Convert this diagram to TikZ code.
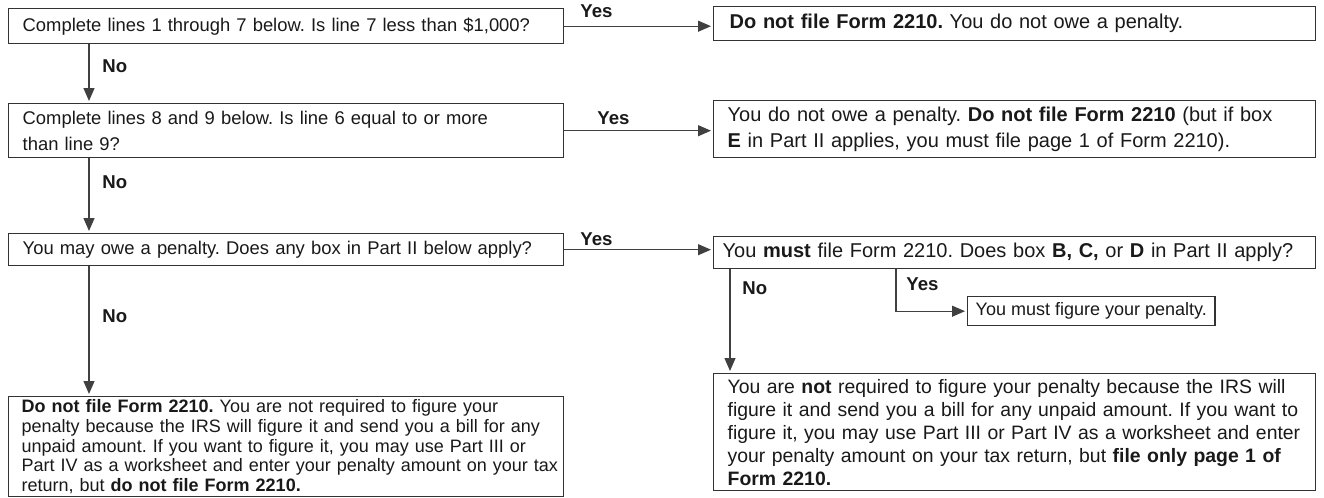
\documentclass[tikz,border=0pt]{standalone}
\usepackage{fontspec}
\setmainfont{Liberation Sans}
\usetikzlibrary{arrows.meta,calc}
\frenchspacing
\hyphenpenalty=10000
\begin{document}
\begin{tikzpicture}[x=0.5pt,y=-0.5pt,
  box/.style={draw=black!80, line width=0.7pt, anchor=north west, align=left,
    inner xsep=7pt, inner ysep=0pt, font=\fontsize{9.2}{13}\selectfont, text=black!90},
  rbox/.style={box, font=\fontsize{10}{13}\selectfont},
  lbl/.style={font=\fontsize{9.3}{11}\selectfont\bfseries, inner sep=0pt, text=black!90},
  arr/.style={draw=black!75, line width=0.6pt, -{Triangle[length=6.5pt,width=5.5pt]}, shorten >=1pt},
]
\useasboundingbox (0,0) rectangle (1324,498);
% boxes
\node[box, text width=263.5pt, minimum height=17.5pt] (A) at (8,8)
  {\mbox{Complete lines 1 through 7 below. Is line 7 less than \$1,000?}};
\node[rbox, inner xsep=8pt, text width=285pt, minimum height=17pt] (B) at (713,6)
  {\textbf{Do not file Form 2210.} You do not owe a penalty.};
\node[box, text width=263.5pt, minimum height=27pt] (C) at (8,103)
  {Complete lines 8 and 9 below. Is line 6 equal to or more\\than line 9?};
\node[rbox, text width=287pt, minimum height=28.5pt] (D) at (713,100)
  {\mbox{You do not owe a penalty. \textbf{Do not file Form 2210} (but if box}\\\mbox{\textbf{E} in Part II applies, you must file page 1 of Form 2210).}};
\node[box, text width=263.5pt, minimum height=16pt] (E) at (8,233)
  {\mbox{You may owe a penalty. Does any box in Part II below apply?}};
\node[rbox, inner xsep=4.5pt, text width=292pt, minimum height=16pt] (F) at (713,236)
  {\mbox{You \textbf{must} file Form 2210. Does box \textbf{B, C,} or \textbf{D} in Part II apply?}};
\node[box, font=\fontsize{9}{11}\selectfont, align=center, inner xsep=4pt, minimum width=111.5pt, minimum height=14.5pt] (I) at (967,296)
  {You must figure your penalty.};
\node[box, font=\fontsize{9}{9.9}\selectfont, inner xsep=6.5pt, text width=264.5pt, minimum height=50pt] (G) at (8,396)
  {\mbox{\textbf{Do not file Form 2210.} You are not required to figure your}\\
   \mbox{penalty because the IRS will figure it and send you a bill for any}\\
   \mbox{unpaid amount. If you want to figure it, you may use Part III or}\\
   \mbox{Part IV as a worksheet and enter your penalty amount on your tax}\\
   \mbox{return, but \textbf{do not file Form 2210.}}};
\node[rbox, font=\fontsize{9.7}{11.5}\selectfont, text width=287pt, minimum height=58.5pt] (H) at (713,373)
  {\mbox{You are \textbf{not} required to figure your penalty because the IRS will}\\
   \mbox{figure it and send you a bill for any unpaid amount. If you want to}\\
   \mbox{figure it, you may use Part III or Part IV as a worksheet and enter}\\
   \mbox{your penalty amount on your tax return, but \textbf{file only page 1 of}}\\
   \textbf{Form 2210.}};
% helper x positions
\coordinate (xl) at (89,0);
\coordinate (xr) at (730,0);
\coordinate (xy) at (896,0);
% Yes connectors
\draw[arr] (A.east) -- (B.west |- A.east);
\node[lbl, anchor=base west] (y1) at (580,18) {Yes};
\draw[arr] (C.east) -- (D.west |- C.east);
\node[lbl, anchor=base west] (y2) at (597,124) {Yes};
\draw[arr] (E.east) -- (F.west |- E.east);
\node[lbl, anchor=base west] (y3) at (580,245) {Yes};
\draw[arr] (xy |- F.south) |- (I.west);
\node[lbl, anchor=base west] (y4) at (906,290) {Yes};
% No connectors
\draw[arr] (xl |- A.south) -- (xl |- C.north);
\node[lbl, anchor=base west] (n1) at (102,72) {No};
\draw[arr] (xl |- C.south) -- (xl |- E.north);
\node[lbl, anchor=base west] (n2) at (102,188) {No};
\draw[arr] (xl |- E.south) -- (xl |- G.north);
\node[lbl, anchor=base west] (n3) at (102,322) {No};
\draw[arr] (xr |- F.south) -- (xr |- H.north);
\node[lbl, anchor=base west] (n4) at (742,294) {No};
\end{tikzpicture}
\end{document}
